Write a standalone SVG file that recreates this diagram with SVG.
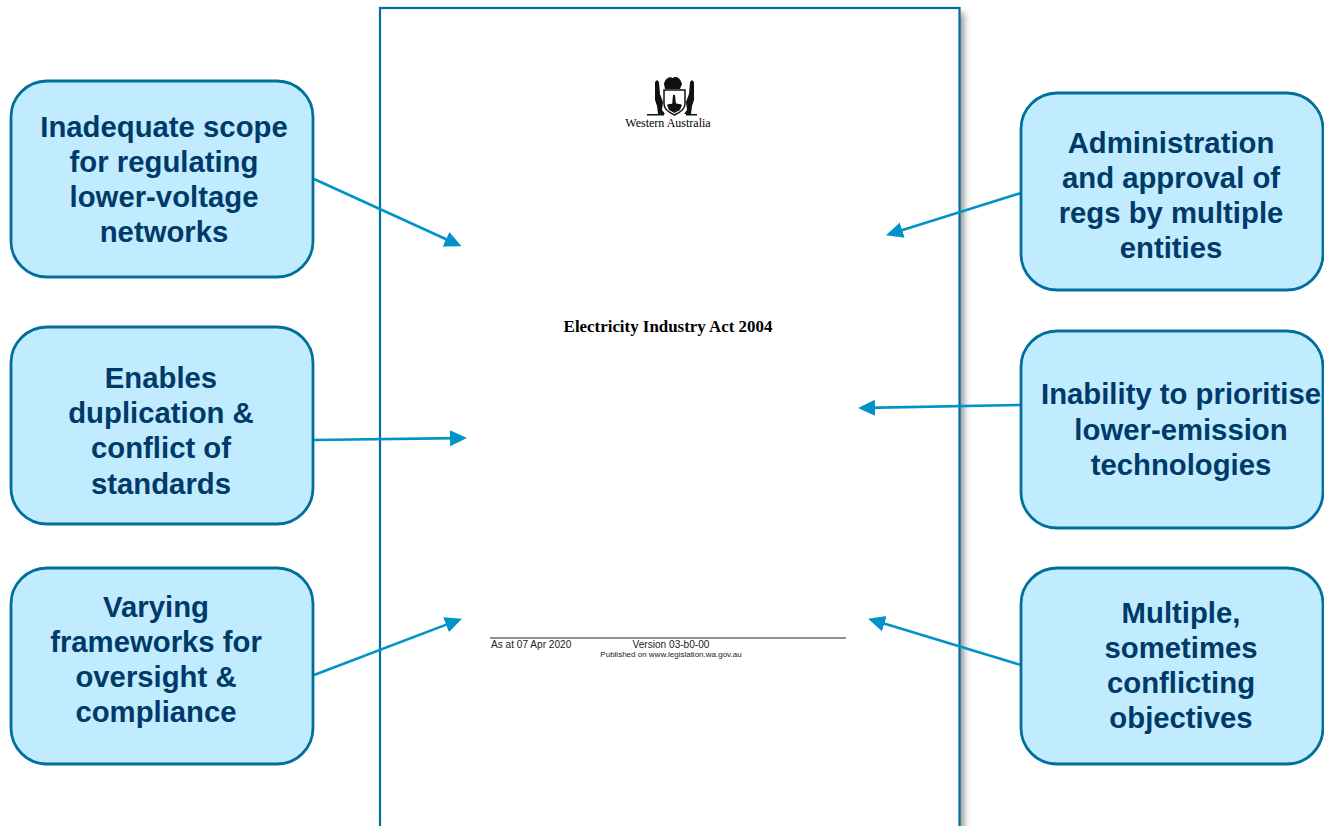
<svg xmlns="http://www.w3.org/2000/svg" width="1324" height="826" viewBox="0 0 1324 826">
<style>
.box{fill:#c1ecff;stroke:#006f9c;stroke-width:2.8}
.t{font-family:"Liberation Sans",Arial,sans-serif;font-weight:700;font-size:29.300px;fill:#003a68;text-anchor:middle}
.c{fill:none;stroke:#0093c9;stroke-width:2.600;marker-end:url(#a)}
.s{font-family:"Liberation Serif","Times New Roman",serif;fill:#000}
.h{font-family:"Liberation Sans",Arial,sans-serif;fill:#222}
.k{fill:#111}
</style>
<defs>
<marker id="a" markerUnits="userSpaceOnUse" markerWidth="20" markerHeight="18" refX="8" refY="9" orient="auto"><path d="M0 1L17 9L0 17Z" fill="#0093c9"/></marker>
<filter id="sh" x="-5%" y="-5%" width="110%" height="110%"><feGaussianBlur stdDeviation="3.500"/></filter>
</defs>
<rect width="1324" height="826" fill="#fff"/>
<g id="document">
<rect x="386" y="13" width="578" height="830" fill="#777" opacity=".8" filter="url(#sh)"/>
<rect x="380" y="8" width="579.500" height="830" fill="#fff" stroke="#006f9c" stroke-width="2.200"/>
<g id="crest">
<path class="k" d="M655 82l2-2 2 2 1 12 3 8 -1 8 3 4 -7 0 -1-8 -2-6z"/>
<path class="k" d="M694 82l-2-2 -2 2 -1 12 -3 8 1 8 -3 4 7 0 1-8 2-6z"/>
<path class="k" d="M664 84c1-6 6-8 9-6 1-2 7-2 9 6l-2 5h-15z"/>
<path d="M664 90h21v14c0 6-6 9-10.500 11-4.500-2-10.500-5-10.500-11z" fill="#fff" stroke="#111" stroke-width="1.500"/>
<path class="k" d="M667 105c3-2 12-2 15 0l-2 5-5.500 3-5.500-3zM673 95l2 0 1 9-4 2z"/>
<path class="k" d="M647 114h17v1.500h-17zM686 114h11v1.500h-11z"/>
</g>
<text class="s" x="668" y="127" font-size="12" text-anchor="middle">Western Australia</text>
<text class="s" x="668" y="332" font-size="16.900" font-weight="700" text-anchor="middle">Electricity Industry Act 2004</text>
<line x1="490" y1="638" x2="846" y2="638" stroke="#222" stroke-width="1"/>
<text class="h" x="491" y="648" font-size="10.100">As at 07 Apr 2020</text>
<text class="h" x="671" y="648" font-size="10.100" text-anchor="middle">Version 03-b0-00</text>
<text class="h" x="671" y="657" font-size="8" text-anchor="middle">Published on www.legislation.wa.gov.au</text>
</g>
<g id="connectors">
<path class="c" d="M314 179L453.300 242.500"/>
<path class="c" d="M314 440L458 438.100"/>
<path class="c" d="M314 675L453.500 621.900"/>
<path class="c" d="M1021 193L894.600 232.600"/>
<path class="c" d="M1021 405L867 407.900"/>
<path class="c" d="M1021 665L876.700 621.300"/>
</g>
<g id="n1"><rect class="box" x="11" y="81" width="302" height="196" rx="36"/><text class="t"><tspan x="164" y="137">Inadequate scope</tspan><tspan x="164" y="172">for regulating</tspan><tspan x="164" y="207">lower-voltage</tspan><tspan x="164" y="242">networks</tspan></text></g>
<g id="n2"><rect class="box" x="11" y="327" width="302" height="197" rx="36"/><text class="t"><tspan x="161" y="388">Enables</tspan><tspan x="161" y="423">duplication &amp;</tspan><tspan x="161" y="458">conflict of</tspan><tspan x="161" y="494">standards</tspan></text></g>
<g id="n3"><rect class="box" x="11" y="568" width="302" height="196" rx="36"/><text class="t"><tspan x="156" y="617">Varying</tspan><tspan x="156" y="652">frameworks for</tspan><tspan x="156" y="687">oversight &amp;</tspan><tspan x="156" y="722">compliance</tspan></text></g>
<g id="n4"><rect class="box" x="1021" y="93" width="302" height="197" rx="36"/><text class="t"><tspan x="1171" y="153">Administration</tspan><tspan x="1171" y="188">and approval of</tspan><tspan x="1171" y="223">regs by multiple</tspan><tspan x="1171" y="258">entities</tspan></text></g>
<g id="n5"><rect class="box" x="1021" y="331" width="302" height="197" rx="36"/><text class="t"><tspan x="1181" y="404">Inability to prioritise</tspan><tspan x="1181" y="440">lower-emission</tspan><tspan x="1181" y="475">technologies</tspan></text></g>
<g id="n6"><rect class="box" x="1021" y="568" width="302" height="196" rx="36"/><text class="t"><tspan x="1181" y="623">Multiple,</tspan><tspan x="1181" y="658">sometimes</tspan><tspan x="1181" y="693">conflicting</tspan><tspan x="1181" y="728">objectives</tspan></text></g>
</svg>
